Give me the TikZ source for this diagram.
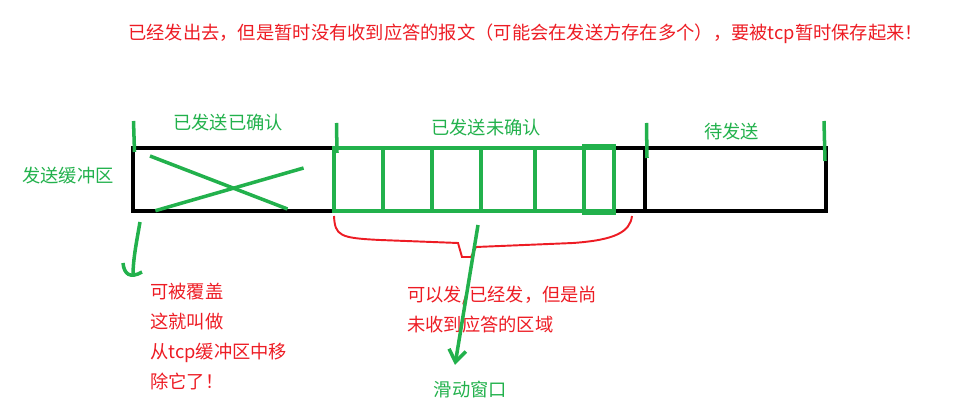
\documentclass[tikz,border=0pt]{standalone}
\usepackage{fontspec}
\setmainfont{Noto Sans CJK SC}
\usepackage{xcolor}
\usetikzlibrary{arrows.meta, calc}
\definecolor{paintred}{HTML}{ED1C24}
\definecolor{paintgreen}{HTML}{22B14C}

\begin{document}
\begin{tikzpicture}[x=0.02cm, y=-0.02cm, >={Straight Barb[length=2.4mm, width=3.4mm]},
  every node/.style={font={\fontsize{10.4}{17.07}\selectfont}, inner sep=0pt},
  redtext/.style={text=paintred, align=left, anchor=west},
  greentext/.style={text=paintgreen},
  pen/.style={paintgreen, line width=2pt},
  boxpen/.style={black, line width=2pt},
  redpen/.style={paintred, line width=1.1pt}]
  \useasboundingbox (0,0) rectangle (957,411);
  % labels
  \node[redtext] (note) at (128,33.3) {已经发出去，但是暂时没有收到应答的报文（可能会在发送方存在多个），要被tcp暂时保存起来！};
  \node[greentext] (buffer) at (68,176) {发送缓冲区};
  \node[greentext] (acked) at (228,122.7) {已发送已确认};
  \node[greentext] (unacked) at (486,128) {已发送未确认};
  \node[greentext] (pending) at (731.6,131.7) {待发送};
  \node[redtext] (removed) at (150,336.7) {可被覆盖\\这就叫做\\从tcp缓冲区中移\\除它了！};
  \node[redtext] (inflight) at (407,310) {可以发/已经发，但是尚\\未收到应答的区域};
  \node[greentext] (window) at (470.5,390) {滑动窗口};
  % buffer
  \draw[boxpen] (133,148) rectangle (826,211);
  \draw[boxpen] (645,148) -- (645,211);
  \draw[pen] (150,156) -- (287.5,209);
  \draw[pen] (155.4,210.7) -- (303.6,168);
  \draw[pen] (334,148) rectangle (614,211);
  \foreach \cx in {383,432,481,535}
    \draw[pen] (\cx,148) -- (\cx,211);
  \draw[pen] (584,146) rectangle (614,213);
  % ticks
  \draw[pen] (133.5,121) -- (134.5,152);
  \draw[pen] (336.5,123) -- (337,153);
  \draw[pen] (646.5,123) -- (647,158);
  \draw[pen] (824,121) -- (825,161);
  % brace
  \draw[redpen] (334,216) .. controls (335,236) and (340,238) .. (380,240) -- (458,243) -- (462,257) -- (471,257) -- (476,247) -- (573,243) .. controls (615,240) and (630,232) .. (632,216);
  % arrows
  \coordinate (coverfrom) at (140,222);
  \coordinate (coverto) at (133,276);
  \draw[pen] (coverfrom) .. controls (136,245) and (133,260) .. (coverto);
  \draw[pen] (123,263) .. controls (124,274) and (130,279) .. (142,272);
  \coordinate (winfrom) at (478,225);
  \coordinate (winto) at (455,365);
  \draw[pen, ->] (winfrom) -- (winto);
\end{tikzpicture}
\end{document}
